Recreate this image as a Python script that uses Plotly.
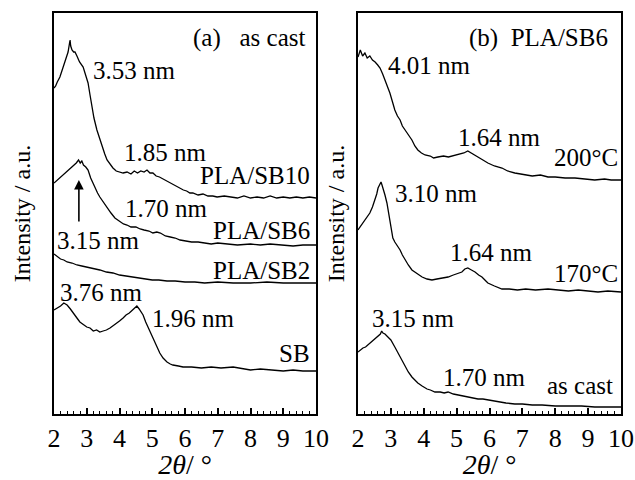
import plotly.graph_objects as go

# ---------------- data (2θ in degrees, intensity in a.u.) ----------------
# Panel (a): as cast
sb10_x = [2.0, 2.05, 2.1, 2.18, 2.25, 2.34, 2.4, 2.43, 2.47, 2.49, 2.51, 2.55, 2.6, 2.64, 2.7,
          2.78, 2.89, 2.95, 3.04, 3.1, 3.16, 3.22, 3.31, 3.4, 3.47, 3.55, 3.62, 3.7, 3.8, 3.9,
          4.0, 4.11, 4.23, 4.35, 4.45, 4.55, 4.65, 4.75, 4.84, 4.93, 5.02, 5.12, 5.22, 5.33, 5.45,
          5.55, 5.65, 5.75, 5.85, 5.95, 6.05, 6.15, 6.24, 6.4, 6.55, 6.7, 6.85, 6.98, 7.2, 7.4,
          7.6, 7.8, 8.0, 8.2, 8.4, 8.6, 8.8, 9.0, 9.2, 9.4, 9.6, 9.8, 10.0]
sb10_y = [326, 328, 332, 337, 344, 352, 359, 362, 370, 374, 368, 364, 362, 362, 358,
          352, 347, 341, 331, 319, 307, 296, 284, 274, 267, 260, 254, 250, 246, 243,
          242, 241, 242, 240, 243, 241, 243, 242, 244, 241, 241, 238, 237, 235, 233,
          231, 229, 228, 226, 224, 223, 221, 221, 219, 220, 218, 218, 217, 218, 217,
          216, 218, 216, 217, 216, 218, 216, 217, 216, 217, 216, 217, 216]

sb6_x = [2.0, 2.1, 2.2, 2.3, 2.4, 2.5, 2.6, 2.68, 2.75, 2.8, 2.85, 2.9, 2.97, 3.04, 3.12,
         3.2, 3.25, 3.33, 3.4, 3.5, 3.62, 3.74, 3.86, 4.0, 4.12, 4.23, 4.35, 4.5, 4.63, 4.75,
         4.9, 5.02, 5.14, 5.25, 5.4, 5.55, 5.7, 5.85, 6.0, 6.2, 6.4, 6.6, 6.8, 7.0, 7.3,
         7.6, 8.0, 8.3, 8.6, 9.0, 9.3, 9.6, 10.0]
sb6_y = [231, 234, 237, 239, 242, 245, 248, 251, 254, 251, 253, 249, 247, 244, 236,
         230, 227, 221, 217, 212, 206, 201, 196, 193, 190, 189, 187, 187, 185, 184,
         183, 181, 182, 181, 178, 177, 176, 174, 173, 172, 172, 171, 170, 171, 170,
         169, 170, 169, 170, 169, 168, 169, 169]

sb2_x = [2.0, 2.1, 2.2, 2.3, 2.4, 2.55, 2.7, 2.85, 3.0, 3.2, 3.4, 3.6, 3.8, 4.0, 4.2,
         4.41, 4.6, 4.8, 5.0, 5.2, 5.45, 5.7, 6.0, 6.3, 6.6, 7.0, 7.47, 8.0, 8.5, 9.0,
         9.5, 10.0]
sb2_y = [160, 157, 155, 154, 152, 151, 149, 148, 147, 145, 144, 142, 141, 139, 138,
         137, 136, 135, 134, 134, 133, 133, 132, 132, 131, 132, 131, 131, 132, 131,
         131, 131]

sb_x = [2.0, 2.1, 2.2, 2.3, 2.4, 2.5, 2.6, 2.7, 2.79, 2.9, 3.0, 3.1, 3.2, 3.3, 3.4,
        3.5, 3.6, 3.71, 3.8, 3.9, 4.0, 4.11, 4.2, 4.3, 4.4, 4.47, 4.53, 4.6, 4.66, 4.72,
        4.8, 4.87, 4.93, 5.0, 5.07, 5.14, 5.23, 5.33, 5.45, 5.55, 5.63, 5.8, 5.94, 6.2, 6.5,
        6.8, 7.1, 7.47, 7.8, 8.0, 8.3, 8.6, 9.0, 9.3, 9.6, 10.0]
sb_y = [104, 106, 108, 111, 109, 105, 101, 96, 92, 89, 87, 86, 83, 84, 82,
        83, 84, 86, 88, 91, 93, 96, 99, 101, 104, 107, 108, 105, 102, 99,
        92, 87, 82, 76, 71, 67, 61, 56, 52, 50, 49, 48, 47, 47, 46,
        47, 46, 47, 45, 44, 45, 44, 43, 44, 43, 43]

# Panel (b): PLA/SB6 annealed
t200_x = [2.0, 2.07, 2.14, 2.21, 2.28, 2.36, 2.44, 2.52, 2.6, 2.67, 2.75, 2.82, 2.9, 2.97, 3.05,
          3.12, 3.2, 3.28, 3.35, 3.43, 3.55, 3.64, 3.73, 3.82, 3.93, 4.04, 4.2, 4.3, 4.43, 4.6,
          4.75, 4.95, 5.1, 5.22, 5.34, 5.45, 5.55, 5.65, 5.8, 5.95, 6.15, 6.38, 6.55, 6.77, 7.0,
          7.3, 7.55, 7.78, 8.0, 8.3, 8.6, 8.9, 9.2, 9.5, 9.7, 10.0]
t200_y = [357, 364, 358, 361, 356, 358, 354, 352, 349, 346, 340, 334, 327, 321, 312,
          304, 298, 294, 288, 284, 278, 274, 268, 264, 261, 259, 258, 256, 257, 258,
          257, 259, 260, 261, 263, 261, 259, 257, 254, 251, 248, 246, 243, 241, 240,
          238, 239, 237, 237, 236, 236, 235, 234, 235, 234, 234]

t170_x = [2.0, 2.06, 2.14, 2.21, 2.28, 2.36, 2.44, 2.52, 2.57, 2.61, 2.66, 2.70, 2.73, 2.76, 2.82,
          2.88, 2.93, 2.97, 3.02, 3.06, 3.12, 3.2, 3.28, 3.35, 3.43, 3.53, 3.64, 3.8, 3.95, 4.1,
          4.25, 4.4, 4.55, 4.74, 4.9, 5.05, 5.16, 5.25, 5.34, 5.45, 5.56, 5.67, 5.77, 5.86, 5.95,
          6.15, 6.38, 6.6, 6.85, 7.1, 7.4, 7.78, 8.1, 8.4, 8.7, 9.0, 9.3, 9.6, 10.0]
t170_y = [184, 187, 190, 194, 197, 201, 207, 214, 220, 226, 230, 232, 229, 226, 219,
          211, 202, 194, 184, 176, 172, 168, 164, 159, 154, 149, 144, 140, 137, 135,
          134, 135, 136, 137, 139, 141, 142, 145, 146, 144, 142, 139, 137, 134, 131,
          128, 125, 125, 124, 125, 124, 125, 124, 123, 124, 123, 122, 123, 122]

cast_x = [2.0, 2.08, 2.15, 2.23, 2.3, 2.38, 2.46, 2.53, 2.61, 2.68, 2.72, 2.76, 2.82, 2.91, 3.0,
          3.12, 3.22, 3.33, 3.43, 3.53, 3.64, 3.73, 3.82, 3.95, 4.1, 4.2, 4.34, 4.5, 4.62, 4.74,
          4.9, 5.05, 5.2, 5.34, 5.5, 5.65, 5.8, 5.95, 6.2, 6.5, 6.77, 7.0, 7.3, 7.6, 8.0,
          8.4, 8.8, 9.2, 9.6, 10.0]
cast_y = [62, 64, 66, 67, 69, 71, 73, 75, 77, 80, 83, 81, 80, 77, 74,
          67, 61, 54, 47, 42, 37, 34, 31, 28, 25, 24, 22, 22, 21, 22,
          20, 19, 18, 17, 16, 15, 15, 14, 13, 11, 10, 10, 9, 9, 8,
          8, 8, 7, 7, 7]

# annotations: (text, x, y, xanchor)
labels_a = [
    ("(a)   as cast", 9.73, 376, "right"),
    ("3.53 nm", 4.46, 344, "center"),
    ("1.85 nm", 5.39, 262, "center"),
    ("PLA/SB10", 9.88, 239, "right"),
    ("1.70 nm", 5.42, 206, "center"),
    ("PLA/SB6", 9.88, 184, "right"),
    ("3.15 nm", 3.37, 174, "center"),
    ("PLA/SB2", 9.88, 144, "right"),
    ("3.76 nm", 3.45, 122, "center"),
    ("1.96 nm", 6.27, 96, "center"),
    ("SB", 9.88, 61, "right"),
]
labels_b = [
    ("(b)  PLA/SB6", 9.66, 376, "right"),
    ("4.01 nm", 4.17, 349, "center"),
    ("1.64 nm", 6.30, 277, "center"),
    ("200°C", 9.97, 257, "right"),
    ("3.10 nm", 4.39, 221, "center"),
    ("1.64 nm", 6.06, 162, "center"),
    ("170°C", 9.97, 141, "right"),
    ("3.15 nm", 3.69, 96, "center"),
    ("1.70 nm", 5.84, 37, "center"),
    ("as cast", 9.81, 29, "right"),
]

# ---------------- figure ----------------
FONT = "Liberation Serif"
line_style = dict(color="black", width=1.3)

fig = go.Figure()
for xs, ys, name in [(sb10_x, sb10_y, "PLA/SB10"), (sb6_x, sb6_y, "PLA/SB6"),
                     (sb2_x, sb2_y, "PLA/SB2"), (sb_x, sb_y, "SB")]:
    assert len(xs) == len(ys)
    fig.add_trace(go.Scatter(x=xs, y=ys, mode="lines", line=line_style, name=name,
                             xaxis="x", yaxis="y", showlegend=False))
for xs, ys, name in [(t200_x, t200_y, "200°C"), (t170_x, t170_y, "170°C"),
                     (cast_x, cast_y, "as cast")]:
    assert len(xs) == len(ys)
    fig.add_trace(go.Scatter(x=xs, y=ys, mode="lines", line=line_style, name=name,
                             xaxis="x2", yaxis="y2", showlegend=False))

W, H = 635, 480
xdom_a = [54 / W, 316 / W]
xdom_b = [358 / W, 621 / W]
ydom = [(H - 414) / H, (H - 13) / H]

tick_style = dict(tickmode="linear", tick0=2, dtick=1,
                  ticks="inside", ticklen=6, tickwidth=1.5, tickcolor="black",
                  minor=dict(dtick=0.2, ticks="inside", ticklen=3, tickwidth=1.2,
                             tickcolor="black"))

xcommon = dict(range=[2, 10], **tick_style,
               showline=True, linecolor="black", linewidth=1.5, mirror=True,
               showgrid=False, zeroline=False,
               tickfont=dict(family=FONT, size=26, color="black"),
               title=dict(text="<i>2θ</i>/ °", font=dict(family=FONT, size=28, color="black"),
                          standoff=2))

# overlay axes that only carry the inside tick marks
xticks_only = dict(range=[2, 10], **tick_style, showline=False, showgrid=False,
                   zeroline=False, showticklabels=False, side="bottom")


def ycommon(standoff):
    return dict(range=[0, 401], showticklabels=False, ticks="", showline=True,
                linecolor="black", linewidth=1.5, mirror=True, showgrid=False,
                zeroline=False,
                title=dict(text="Intensity / a.u.",
                           font=dict(family=FONT, size=24, color="black"),
                           standoff=standoff))


fig.update_layout(
    width=W, height=H,
    margin=dict(l=0, r=0, t=0, b=0, autoexpand=False),
    paper_bgcolor="white", plot_bgcolor="white",
    font=dict(family=FONT, color="black"),
    xaxis=dict(domain=xdom_a, anchor="y", **xcommon),
    yaxis=dict(domain=ydom, anchor="x", **ycommon(15)),
    xaxis2=dict(domain=xdom_b, anchor="y2", **xcommon),
    yaxis2=dict(domain=ydom, anchor="x2", **ycommon(5)),
    xaxis3=dict(domain=xdom_a, anchor="y", overlaying="x", **xticks_only),
    xaxis4=dict(domain=xdom_b, anchor="y2", overlaying="x2", **xticks_only),
    showlegend=False,
)

anns = []
for text, x, y, xa in labels_a:
    anns.append(dict(text=text, x=x, y=y, xref="x", yref="y", xanchor=xa, yanchor="middle",
                     showarrow=False, font=dict(family=FONT, size=25, color="black")))
for text, x, y, xa in labels_b:
    anns.append(dict(text=text, x=x, y=y, xref="x2", yref="y2", xanchor=xa, yanchor="middle",
                     showarrow=False, font=dict(family=FONT, size=25, color="black")))
# upward arrow marking the PLA/SB6 peak
anns.append(dict(x=2.76, y=234, ax=2.76, ay=191, xref="x", yref="y", axref="x", ayref="y",
                 text="", showarrow=True, arrowhead=2, arrowsize=1.2, arrowwidth=1.6,
                 arrowcolor="black"))
fig.update_layout(annotations=anns)

fig.write_html("out.html")
